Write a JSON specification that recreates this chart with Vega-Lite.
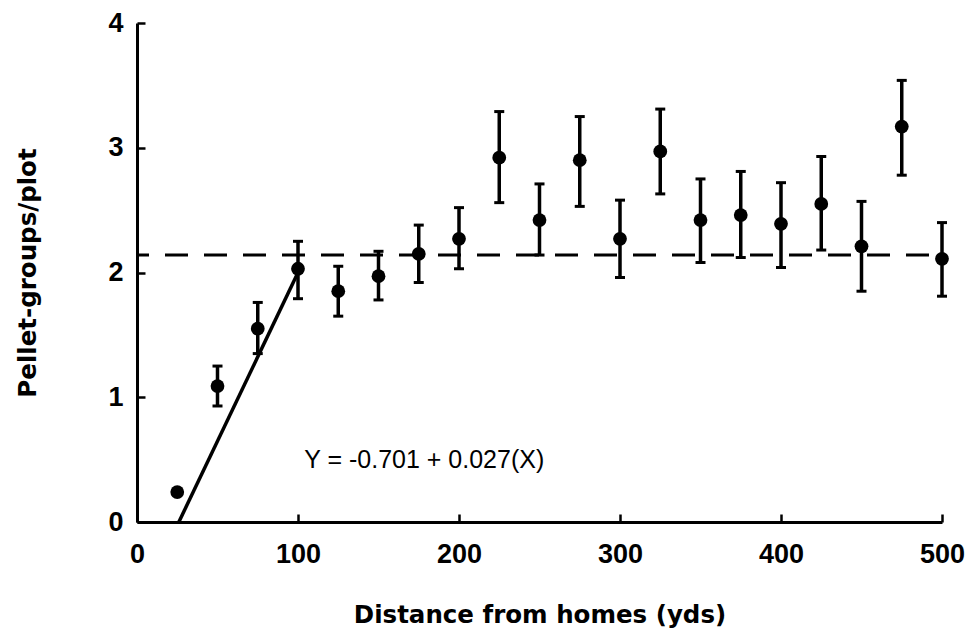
{
  "$schema": "https://vega.github.io/schema/vega-lite/v6.json",
  "width": 805,
  "height": 499,
  "autosize": "none",
  "padding": {"left": 137, "top": 23, "right": 28, "bottom": 109},
  "background": "white",
  "config": {
    "view": {"stroke": null},
    "axis": {
      "grid": false,
      "domainColor": "black",
      "domainWidth": 3,
      "tickColor": "black",
      "tickWidth": 2.5,
      "tickSize": -8,
      "labelColor": "black",
      "labelFont": "Liberation Sans",
      "labelFontWeight": "bold",
      "labelFontSize": 27,
      "titleColor": "black",
      "titleFont": "DejaVu Sans",
      "titleFontWeight": "bold",
      "titleFontSize": 24.5
    },
    "axisX": {"labelPadding": 27, "titleY": 100, "titleBaseline": "alphabetic", "labelFlush": false},
    "axisY": {"labelPadding": 22, "titleX": -102, "titleY": 249.5, "titleAngle": -90, "titleAlign": "center", "titleBaseline": "alphabetic", "labelBaseline": "middle"}
  },
  "datasets": {
    "points": [
      {"x": 25, "y": 0.24},
      {"x": 50, "y": 1.09, "lo": 0.93, "hi": 1.25},
      {"x": 75, "y": 1.55, "lo": 1.35, "hi": 1.76},
      {"x": 100, "y": 2.03, "lo": 1.79, "hi": 2.25},
      {"x": 125, "y": 1.85, "lo": 1.65, "hi": 2.05},
      {"x": 150, "y": 1.97, "lo": 1.78, "hi": 2.17},
      {"x": 175, "y": 2.15, "lo": 1.92, "hi": 2.38},
      {"x": 200, "y": 2.27, "lo": 2.03, "hi": 2.52},
      {"x": 225, "y": 2.92, "lo": 2.56, "hi": 3.29},
      {"x": 250, "y": 2.42, "lo": 2.14, "hi": 2.71},
      {"x": 275, "y": 2.90, "lo": 2.53, "hi": 3.25},
      {"x": 300, "y": 2.27, "lo": 1.96, "hi": 2.58},
      {"x": 325, "y": 2.97, "lo": 2.63, "hi": 3.31},
      {"x": 350, "y": 2.42, "lo": 2.08, "hi": 2.75},
      {"x": 375, "y": 2.46, "lo": 2.12, "hi": 2.81},
      {"x": 400, "y": 2.39, "lo": 2.04, "hi": 2.72},
      {"x": 425, "y": 2.55, "lo": 2.18, "hi": 2.93},
      {"x": 450, "y": 2.21, "lo": 1.85, "hi": 2.57},
      {"x": 475, "y": 3.17, "lo": 2.78, "hi": 3.54},
      {"x": 500, "y": 2.11, "lo": 1.81, "hi": 2.40}
    ],
    "fit": [
      {"x": 26, "y": 0},
      {"x": 100, "y": 2.0}
    ],
    "mean": [
      {"x": 0, "x2": 500, "y": 2.14}
    ],
    "label": [
      {"x": 178.4, "y": 0.43, "text": "Y = -0.701 + 0.027(X)"}
    ]
  },
  "layer": [
    {
      "data": {"name": "mean"},
      "mark": {"type": "rule", "color": "black", "strokeWidth": 3, "strokeDash": [23, 16], "strokeDashOffset": 11},
      "encoding": {
        "x": {"field": "x", "type": "quantitative", "scale": {"domain": [0, 500], "nice": false, "zero": false}, "axis": {"values": [0, 100, 200, 300, 400, 500], "format": "d"}, "title": "Distance from homes (yds)"},
        "x2": {"field": "x2"},
        "y": {"field": "y", "type": "quantitative", "scale": {"domain": [0, 4], "nice": false, "zero": false}, "axis": {"values": [0, 1, 2, 3, 4], "format": "d"}, "title": "Pellet-groups/plot"}
      }
    },
    {
      "data": {"name": "fit"},
      "mark": {"type": "line", "color": "black", "strokeWidth": 3.5},
      "encoding": {
        "x": {"field": "x", "type": "quantitative", "title": "Distance from homes (yds)"},
        "y": {"field": "y", "type": "quantitative", "title": "Pellet-groups/plot"}
      }
    },
    {
      "data": {"name": "points"},
      "transform": [{"filter": "datum.lo != null"}],
      "mark": {"type": "rule", "color": "black", "strokeWidth": 3.5},
      "encoding": {
        "x": {"field": "x", "type": "quantitative", "title": "Distance from homes (yds)"},
        "y": {"field": "lo", "type": "quantitative", "title": "Pellet-groups/plot"},
        "y2": {"field": "hi"}
      }
    },
    {
      "data": {"name": "points"},
      "transform": [{"filter": "datum.lo != null"}],
      "mark": {"type": "tick", "color": "black", "orient": "horizontal", "size": 10, "thickness": 3, "opacity": 1},
      "encoding": {
        "x": {"field": "x", "type": "quantitative", "title": "Distance from homes (yds)"},
        "y": {"field": "hi", "type": "quantitative", "title": "Pellet-groups/plot"}
      }
    },
    {
      "data": {"name": "points"},
      "transform": [{"filter": "datum.lo != null"}],
      "mark": {"type": "tick", "color": "black", "orient": "horizontal", "size": 10, "thickness": 3, "opacity": 1},
      "encoding": {
        "x": {"field": "x", "type": "quantitative", "title": "Distance from homes (yds)"},
        "y": {"field": "lo", "type": "quantitative", "title": "Pellet-groups/plot"}
      }
    },
    {
      "data": {"name": "points"},
      "mark": {"type": "circle", "color": "black", "size": 190, "opacity": 1},
      "encoding": {
        "x": {"field": "x", "type": "quantitative", "title": "Distance from homes (yds)"},
        "y": {"field": "y", "type": "quantitative", "title": "Pellet-groups/plot"}
      }
    },
    {
      "data": {"name": "label"},
      "mark": {"type": "text", "color": "black", "font": "Liberation Sans", "fontSize": 25, "align": "center", "baseline": "alphabetic"},
      "encoding": {
        "x": {"field": "x", "type": "quantitative", "title": "Distance from homes (yds)"},
        "y": {"field": "y", "type": "quantitative", "title": "Pellet-groups/plot"},
        "text": {"field": "text"}
      }
    }
  ]
}
